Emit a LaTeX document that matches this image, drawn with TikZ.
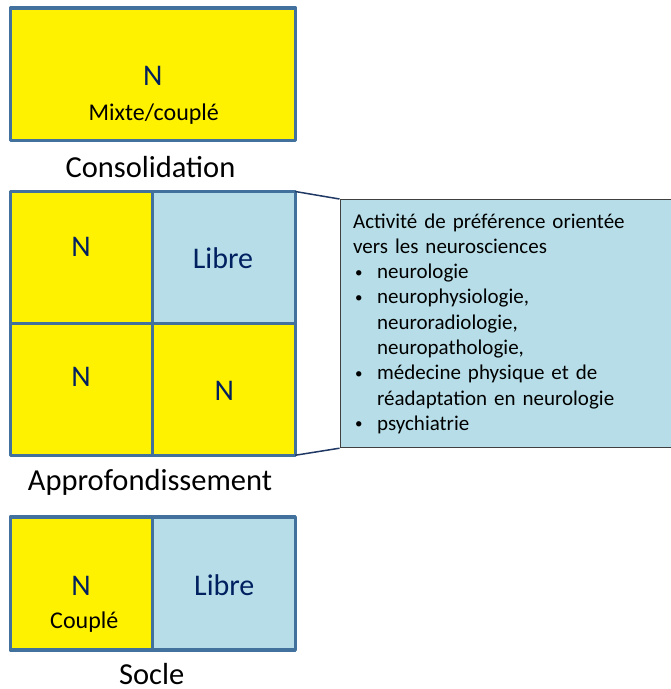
\documentclass[tikz,border=0pt]{standalone}
\usepackage{fontspec}
\setmainfont{Carlito}
\usepackage{tikz}
\usepackage{xcolor}
\definecolor{cellborder}{HTML}{41719C}
\definecolor{navytext}{HTML}{002060}
\definecolor{libreblue}{HTML}{B7DEE8}
\definecolor{linkblue}{HTML}{203864}
\newcommand{\notebullet}{\makebox[24pt][l]{\hspace{2pt}\raisebox{1.5pt}{\fontsize{15}{15}\selectfont\textbullet}}}
\newcommand{\noteindent}{\hspace*{24pt}}
\tikzset{
    cell/.style = {draw=cellborder, line width=3.4pt, line join=round, rectangle, inner sep=0pt, outer sep=0pt, minimum width=142.5pt, minimum height=132pt},
    cell-yellow/.style = {cell, fill=yellow},
    cell-blue/.style = {cell, fill=libreblue},
    cell-text/.style = {anchor=base, inner sep=0pt, text=navytext, font=\fontsize{30}{36}\selectfont},
    sub-text/.style = {anchor=base, inner sep=0pt, font=\fontsize{24}{29}\selectfont},
    level-title/.style = {anchor=base, inner sep=0pt, font=\fontsize{30.5}{37}\selectfont},
    note-box/.style = {draw=black!75, line width=1.2pt, fill=libreblue, rectangle, inner sep=0pt, inner xsep=13pt, minimum width=331pt, minimum height=248pt, text width=305pt, align=left, font=\fontsize{21}{25.3}\selectfont},
    link/.style = {draw=linkblue, line width=1.5pt},
}

\begin{document}
\begin{tikzpicture}[x=1pt, y=-1pt]
\useasboundingbox (0,0) rectangle (671,689);

% consolidation
\node [cell-yellow, minimum width=285pt, minimum height=132.5pt] (cons) at (153,74.25) {};
\node [cell-text] (cons-n) at (152.7,85) {N};
\node [sub-text] (cons-sub) at (153.8,120.7) {Mixte/couplé};
\node [level-title] (cons-title) at (150.5,177) {Consolidation};

% approfondissement
\node [cell-yellow] (appr-tl) at (81.5,257.5) {};
\node [cell-blue] (appr-tr) at (224,257.5) {};
\node [cell-yellow] (appr-bl) at (81.5,389.25) {};
\node [cell-yellow] (appr-br) at (224,389.25) {};
\node [cell-text] (appr-tl-n) at (81,256.7) {N};
\node [cell-text] (appr-tr-n) at (223,268.3) {Libre};
\node [cell-text] (appr-bl-n) at (81,386.7) {N};
\node [cell-text] (appr-br-n) at (224.3,400) {N};
\node [level-title] (appr-title) at (150,490) {Approfondissement};

% socle
\node [cell-yellow, minimum height=133pt] (socle-l) at (81.5,583.5) {};
\node [cell-blue, minimum height=133pt] (socle-r) at (224,583.5) {};
\node [cell-text] (socle-n) at (81,595) {N};
\node [sub-text] (socle-sub) at (84.3,628) {Couplé};
\node [cell-text] (socle-libre) at (224.3,595) {Libre};
\node [level-title] (socle-title) at (151.7,684) {Socle};

% note on the libre slot
\node [note-box, anchor=north west] (note) at (339.5,199) {Activité de préférence orientée\\
vers les neurosciences\\
\notebullet neurologie\\
\notebullet neurophysiologie,\\
\noteindent neuroradiologie,\\
\noteindent neuropathologie,\\
\notebullet médecine physique et de\\
\noteindent réadaptation en neurologie\\
\notebullet psychiatrie};
\draw [link] (appr-tr.north east) -- (note.north west);
\draw [link] (appr-br.south east) -- (note.south west);
\end{tikzpicture}
\end{document}
